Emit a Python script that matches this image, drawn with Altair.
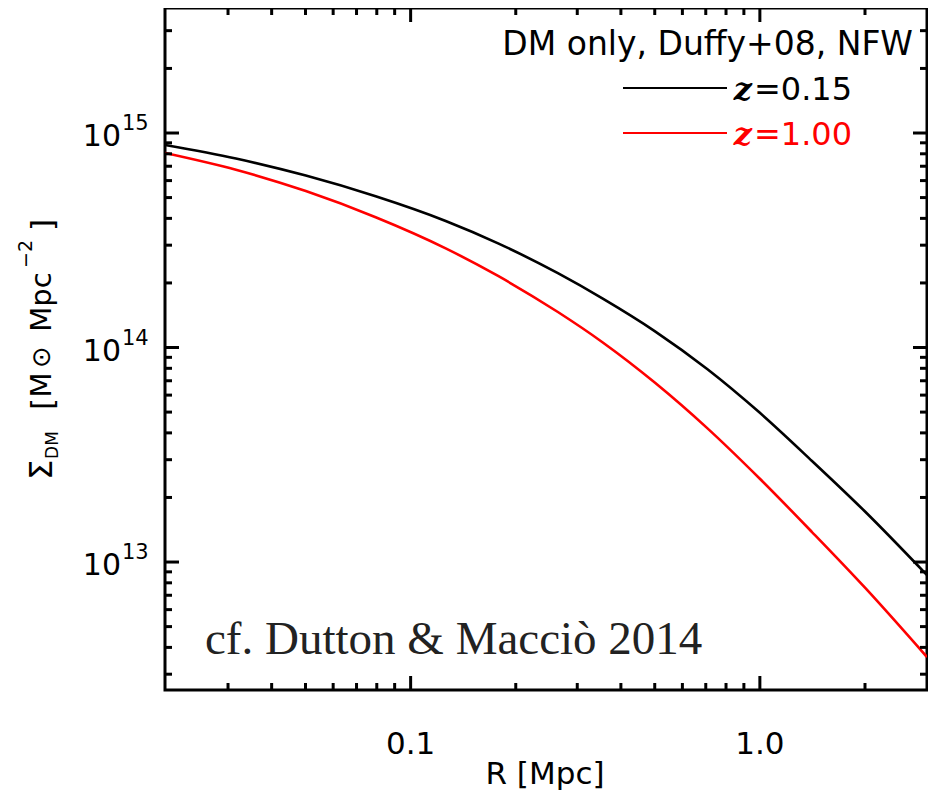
import altair as alt
import pandas as pd

# ---- data ----
R_vals = [0.0198, 0.0316, 0.0501, 0.0794, 0.126, 0.178, 0.264, 0.355, 0.501, 0.708, 1.0, 1.41, 2.0, 3.01]
S_z015 = [8.79e14, 7.60e14, 6.33e14, 5.07e14, 3.89e14, 3.06e14, 2.22e14, 1.69e14, 1.19e14,
          7.92e13, 4.96e13, 2.96e13, 1.72e13, 8.69e12]
S_z100 = [8.07e14, 6.74e14, 5.36e14, 4.05e14, 2.90e14, 2.155e14, 1.464e14, 1.056e14, 6.85e13,
          4.20e13, 2.445e13, 1.38e13, 7.59e12, 3.605e12]
series_names = ["0.15", "1.00"]
series_colors = ["#000000", "#ff0000"]

x_major = [0.1, 1.0]
x_major_labels = ["0.1", "1.0"]
x_minor = [0.03, 0.04, 0.05, 0.06, 0.07, 0.08, 0.09,
           0.2, 0.3, 0.4, 0.5, 0.6, 0.7, 0.8, 0.9, 2.0]
y_major = [1e13, 1e14, 1e15]
y_major_exp = ["13", "14", "15"]
y_minor = [3e12, 4e12, 5e12, 6e12, 7e12, 8e12, 9e12,
           2e13, 3e13, 4e13, 5e13, 6e13, 7e13, 8e13, 9e13,
           2e14, 3e14, 4e14, 5e14, 6e14, 7e14, 8e14, 9e14,
           2e15, 3e15]

x_domain = [0.0198, 3.01]
y_domain = [2.532e12, 3.826e15]

W, H = 762, 682
SANS = "DejaVu Sans"

xs = alt.Scale(type="log", domain=x_domain)
ys = alt.Scale(type="log", domain=y_domain)

lines_df = pd.DataFrame({
    "R": R_vals + R_vals,
    "S": S_z015 + S_z100,
    "z": [series_names[0]] * len(R_vals) + [series_names[1]] * len(R_vals),
})

lines = alt.Chart(lines_df).mark_line(strokeWidth=2.6, clip=True, interpolate="monotone").encode(
    x=alt.X("R:Q", scale=xs, axis=None),
    y=alt.Y("S:Q", scale=ys, axis=None),
    color=alt.Color("z:N", scale=alt.Scale(domain=series_names, range=series_colors), legend=None),
)

layers = [lines]

def x_ticks(vals, length):
    df = pd.DataFrame({"R": vals})
    base = alt.Chart(df).mark_rule(color="black", strokeWidth=3)
    xe = alt.X("R:Q", scale=xs, axis=None)
    return [base.encode(x=xe, y=alt.value(H), y2=alt.value(H - length)),
            base.encode(x=xe, y=alt.value(0), y2=alt.value(length))]

def y_ticks(vals, length):
    df = pd.DataFrame({"S": vals})
    base = alt.Chart(df).mark_rule(color="black", strokeWidth=3)
    ye = alt.Y("S:Q", scale=ys, axis=None)
    return [base.encode(y=ye, x=alt.value(0), x2=alt.value(length)),
            base.encode(y=ye, x=alt.value(W), x2=alt.value(W - length))]

layers += x_ticks(x_major, 14) + x_ticks(x_minor, 7)
layers += y_ticks(y_major, 14) + y_ticks(y_minor, 7)

# y tick labels 10^n
ylab_df = pd.DataFrame({"S": y_major, "b": ["10"] * len(y_major), "e": y_major_exp})
layers.append(alt.Chart(ylab_df).mark_text(align="right", baseline="alphabetic", font=SANS,
                                           fontSize=30, dy=13).encode(
    x=alt.value(-44), y=alt.Y("S:Q", scale=ys, axis=None), text="b:N"))
layers.append(alt.Chart(ylab_df).mark_text(align="left", baseline="alphabetic", font=SANS,
                                           fontSize=21, dy=-3).encode(
    x=alt.value(-43), y=alt.Y("S:Q", scale=ys, axis=None), text="e:N"))

# x tick labels
xlab_df = pd.DataFrame({"R": x_major, "t": x_major_labels})
layers.append(alt.Chart(xlab_df).mark_text(align="center", baseline="alphabetic", font=SANS,
                                           fontSize=31).encode(
    x=alt.X("R:Q", scale=xs, axis=None), y=alt.value(746), text="t:N"))

def label(text, x, y, size, align="left", color="black", font=SANS, angle=0,
          baseline="alphabetic", **kw):
    df = pd.DataFrame({"t": [text]})
    return alt.Chart(df).mark_text(align=align, baseline=baseline, font=font, fontSize=size,
                                   color=color, angle=angle, **kw).encode(
        x=alt.value(x), y=alt.value(y), text="t:N")

# x title
layers.append(label("R [Mpc]", 380, 776, 31, align="center"))

# y title pieces (rotated, reading bottom to top)
layers.append(label("Σ", -113, 462, 32, align="center", angle=270))
layers.append(label("DM", -107, 437, 17, align="center", angle=270))
layers.append(label("[", -112, 396, 31, align="center", angle=270))
layers.append(label("M", -114, 377, 29, align="center", angle=270))
layers.append(label("⊙", -115, 349, 26, align="center", angle=270))
layers.append(label("Mpc", -114, 294, 29, align="center", angle=270))
layers.append(label("−2", -133, 246, 19, align="center", angle=270))
layers.append(label("]", -112, 217, 31, align="center", angle=270))

# annotation top right
layers.append(label("DM only, Duffy+08, NFW", 748, 47, 33, align="right"))

# legend
legend_y = [80, 125]
for i, (name, col) in enumerate(zip(series_names, series_colors)):
    yy = legend_y[i]
    layers.append(alt.Chart(pd.DataFrame({"a": [0]})).mark_rule(color=col, strokeWidth=2).encode(
        x=alt.value(458), x2=alt.value(562), y=alt.value(yy)))
    layers.append(label("z", 587, yy + 12, 32, align="right", color=col, font="DejaVu Serif",
                        fontStyle="italic", fontWeight="bold"))
    layers.append(label("=" + name, 589, yy + 12, 32, align="left", color=col))

# citation
layers.append(label("cf. Dutton & Macciò 2014", 40, 646, 47, font="Liberation Serif",
                    color="#222222"))

chart = alt.layer(*layers).properties(
    width=W, height=H,
    padding={"left": 157, "top": 0, "right": 1, "bottom": 100},
    autosize=alt.AutoSizeParams(type="none"),
).configure_view(stroke="black", strokeWidth=3)

chart.save("out.html", embed_options={"renderer": "svg", "actions": False})
